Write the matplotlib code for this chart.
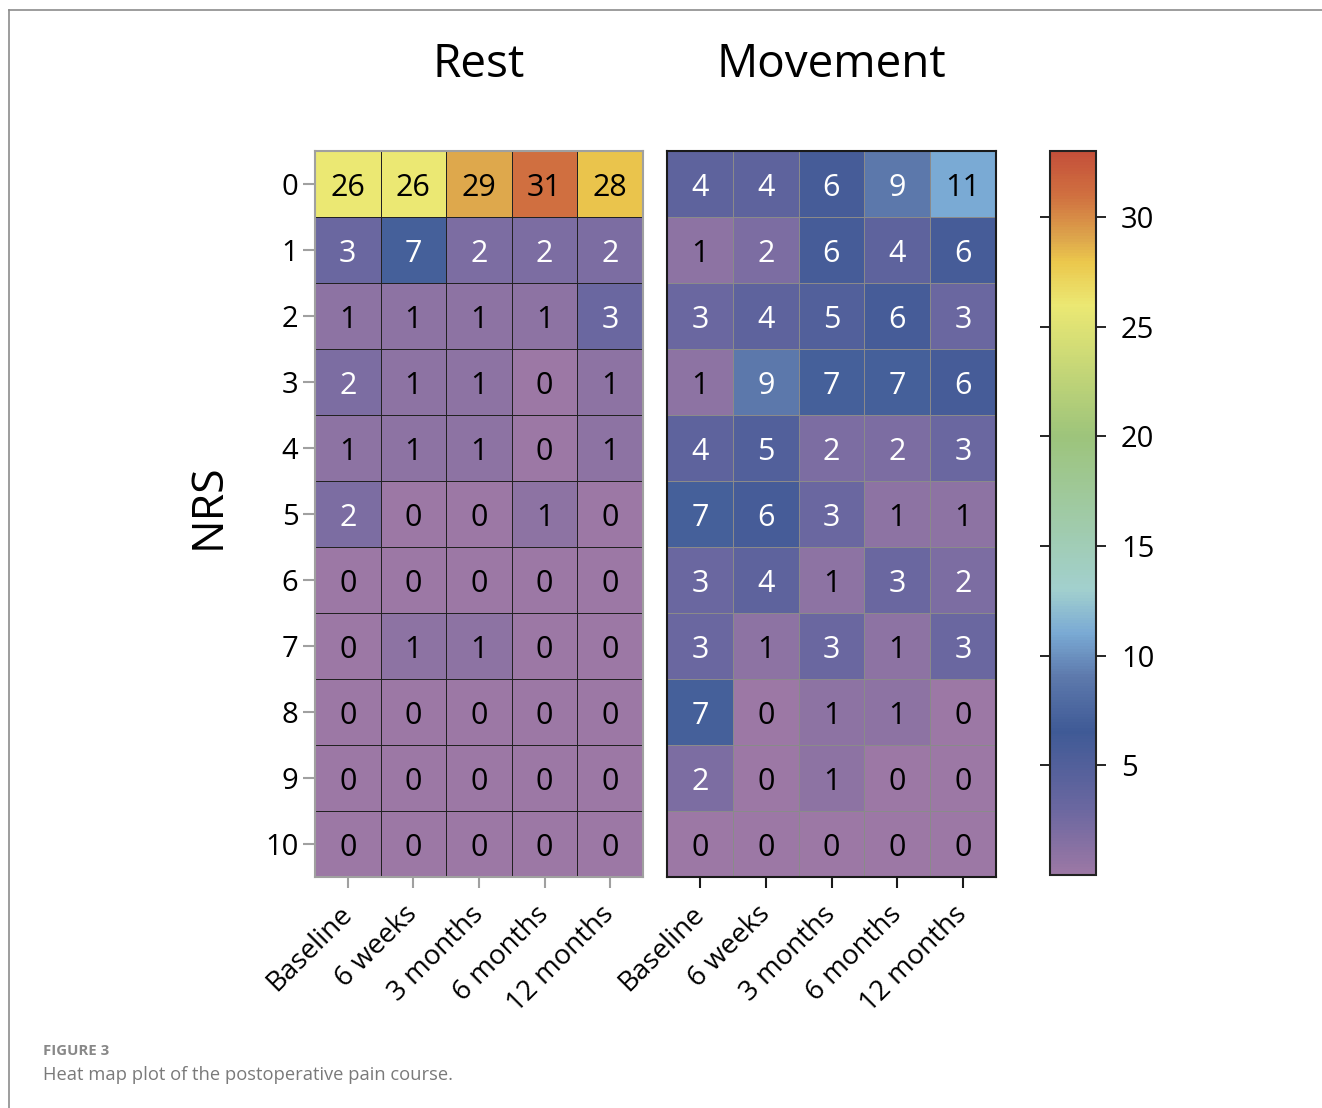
import matplotlib.pyplot as plt
import numpy as np
from matplotlib.colors import LinearSegmentedColormap

plt.rcParams['font.family'] = ['Open Sans', 'DejaVu Sans']

# NRS pain score counts, rows = NRS 0..10, cols = time points
nrs_levels = [str(i) for i in range(11)]
time_points = ['Baseline', '6 weeks', '3 months', '6 months', '12 months']

rest_counts = [
    [26, 26, 29, 31, 28],
    [3, 7, 2, 2, 2],
    [1, 1, 1, 1, 3],
    [2, 1, 1, 0, 1],
    [1, 1, 1, 0, 1],
    [2, 0, 0, 1, 0],
    [0, 0, 0, 0, 0],
    [0, 1, 1, 0, 0],
    [0, 0, 0, 0, 0],
    [0, 0, 0, 0, 0],
    [0, 0, 0, 0, 0],
]

movement_counts = [
    [4, 4, 6, 9, 11],
    [1, 2, 6, 4, 6],
    [3, 4, 5, 6, 3],
    [1, 9, 7, 7, 6],
    [4, 5, 2, 2, 3],
    [7, 6, 3, 1, 1],
    [3, 4, 1, 3, 2],
    [3, 1, 3, 1, 3],
    [7, 0, 1, 1, 0],
    [2, 0, 1, 0, 0],
    [0, 0, 0, 0, 0],
]

panel_titles = ['Rest', 'Movement']
cbar_ticks = [5, 10, 15, 20, 25, 30]
vmin, vmax = 0, 33

# colour scale picked from the reference colorbar
stops = [
    (0.0, '#9c78a5'),
    (3.0 / 33, '#6a67a0'),
    (6.5 / 33, '#3f5a96'),
    (9.0 / 33, '#5d79ac'),
    (11.0 / 33, '#7aaad4'),
    (13.0 / 33, '#a2d0ce'),
    (20.0 / 33, '#9dc47b'),
    (26.0 / 33, '#ebe873'),
    (28.0 / 33, '#ebc74c'),
    (29.0 / 33, '#dea84c'),
    (31.0 / 33, '#d07040'),
    (1.0, '#c4503a'),
]
cmap = LinearSegmentedColormap.from_list('pain', stops)

W, H = 1322, 1108
fig = plt.figure(figsize=(W / 100, H / 100), dpi=100)


def fx(px):
    return px / W


def fy(py):
    return 1 - py / H


# panel geometry in pixels: left, right, top, bottom
panels = [(315, 643, 151, 877), (667, 996, 151, 877)]
frame_colors = ['#a0a0a0', '#1a1a1a']
grid_colors = ['#222222', '#8a8a8a']

mesh = None
for i, data in enumerate([rest_counts, movement_counts]):
    l, r, t, b = panels[i]
    ax = fig.add_axes([fx(l), fy(b), fx(r - l), (b - t) / H])
    arr = np.array(data)
    mesh = ax.pcolormesh(np.arange(arr.shape[1] + 1), np.arange(arr.shape[0] + 1), arr,
                         cmap=cmap, vmin=vmin, vmax=vmax,
                         edgecolors=grid_colors[i], linewidth=0.6)
    ax.set_xlim(0, arr.shape[1])
    ax.set_ylim(arr.shape[0], 0)
    for rr in range(arr.shape[0]):
        for cc in range(arr.shape[1]):
            v = arr[rr, cc]
            col = 'black' if (v <= 1 or v >= 11) else 'white'
            ax.text(cc + 0.5, rr + 0.5, str(v), ha='center', va='center_baseline',
                    fontsize=22, color=col)
    for s in ax.spines.values():
        s.set_color(frame_colors[i])
        s.set_linewidth(1.5)
    ax.set_xticks(np.arange(arr.shape[1]) + 0.5)
    ax.set_xticklabels(time_points, rotation=45, ha='right', va='center',
                       rotation_mode='anchor', fontsize=20)
    ax.tick_params(axis='x', length=8, width=1.5, color=frame_colors[i], pad=16)
    if i == 0:
        ax.set_yticks(np.arange(arr.shape[0]) + 0.5)
        ax.set_yticklabels(nrs_levels, fontsize=21)
        ax.tick_params(axis='y', length=9, width=1.5, color=frame_colors[i], pad=3)
    else:
        ax.set_yticks([])
    fig.text(fx((l + r) / 2), fy(65), panel_titles[i], ha='center', va='center', fontsize=33)

# colorbar
cax = fig.add_axes([fx(1050), fy(875), fx(46), 724 / H])
cb = fig.colorbar(mesh, cax=cax, ticks=cbar_ticks)
cb.outline.set_edgecolor('#222222')
cb.outline.set_linewidth(1.5)
cax.tick_params(axis='y', which='both', left=True, right=True, direction='out',
                length=7, width=1.2, labelsize=21, pad=11)

fig.text(fx(208), fy(506), 'NRS', rotation=90, ha='center', va='center', fontsize=32)

# caption
fig.text(fx(43), fy(1051), 'FIGURE 3', fontsize=10.8, color='#888888', fontweight='bold', va='center')
fig.text(fx(43), fy(1075), 'Heat map plot of the postoperative pain course.', fontsize=13.2,
         color='#7a7a7a', va='center')

# page border lines
fig.add_artist(plt.Line2D([fx(9), 1], [fy(10), fy(10)], color='#8c8c8c', linewidth=1.2))
fig.add_artist(plt.Line2D([fx(9), fx(9)], [0, fy(10)], color='#8c8c8c', linewidth=1.2))

fig.savefig('out.png', dpi=100)
